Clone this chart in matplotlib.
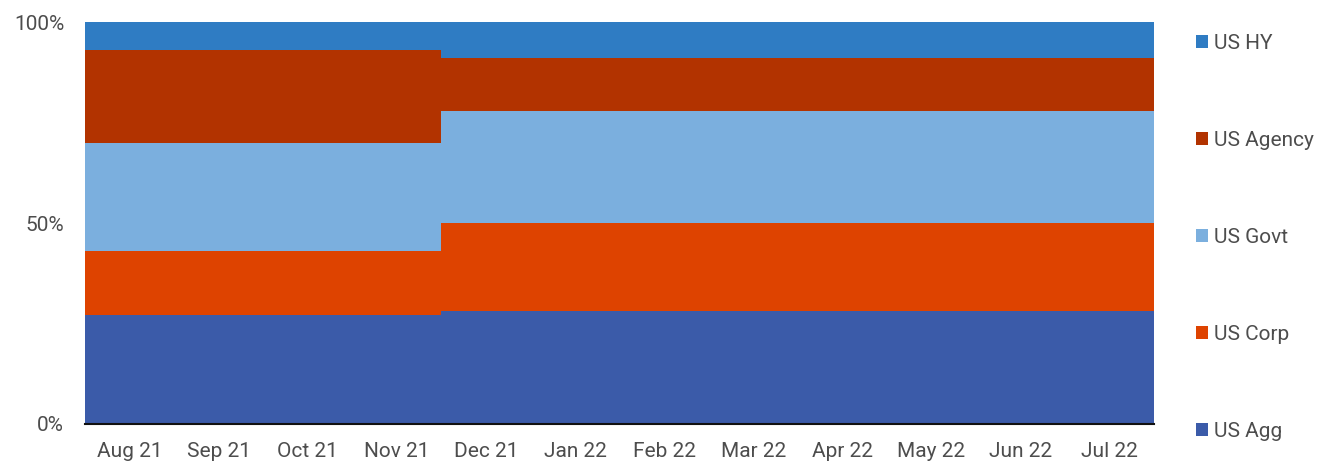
import matplotlib
matplotlib.use("Agg")
import matplotlib.pyplot as plt
import numpy as np
from matplotlib.patches import Patch

plt.rcParams['font.family'] = ['Roboto', 'DejaVu Sans']

months = ["Aug 21", "Sep 21", "Oct 21", "Nov 21", "Dec 21", "Jan 22",
          "Feb 22", "Mar 22", "Apr 22", "May 22", "Jun 22", "Jul 22"]

# portfolio weights, % (bottom to top)
us_agg    = [27, 27, 27, 27, 28, 28, 28, 28, 28, 28, 28, 28]
us_corp   = [16, 16, 16, 16, 22, 22, 22, 22, 22, 22, 22, 22]
us_govt   = [27, 27, 27, 27, 28, 28, 28, 28, 28, 28, 28, 28]
us_agency = [23, 23, 23, 23, 13, 13, 13, 13, 13, 13, 13, 13]
us_hy     = [7, 7, 7, 7, 9, 9, 9, 9, 9, 9, 9, 9]

series = [("US Agg", us_agg, "#3B5BA9"),
          ("US Corp", us_corp, "#DE4300"),
          ("US Govt", us_govt, "#7BAFDE"),
          ("US Agency", us_agency, "#B23300"),
          ("US HY", us_hy, "#2F7CC3")]

fig = plt.figure(figsize=(13.22, 4.62), dpi=100)
ax = fig.add_axes([0.0643, 0.0823, 0.8087, 0.8697])

x = np.arange(len(months))
bottom = np.zeros(len(months))
for name, vals, col in series:
    v = np.array(vals, dtype=float)
    ax.bar(x, v, bottom=bottom, width=1.0, color=col, linewidth=0, label=name)
    bottom += v

ax.set_xlim(-0.5, len(months) - 0.5)
ax.set_ylim(0, 100)
ax.set_yticks([0, 50, 100])
ax.set_yticklabels(["0%", "50%", "100%"])
ax.set_xticks(x)
ax.set_xticklabels(months)
ax.tick_params(axis="both", length=0, labelsize=15, colors="#4d4d4d")
ax.tick_params(axis="y", pad=15)
ax.tick_params(axis="x", pad=13)
for sp in ["top", "right", "left"]:
    ax.spines[sp].set_visible(False)
ax.spines["bottom"].set_color("#111111")
ax.spines["bottom"].set_linewidth(1.5)

handles = [Patch(facecolor=col, label=name) for name, _, col in reversed(series)]
leg = fig.legend(handles=handles, loc="upper left", bbox_to_anchor=(0.8965, 0.949),
                 frameon=False, fontsize=15, labelspacing=3.74,
                 handlelength=0.6, handleheight=0.6, handletextpad=0.3,
                 borderpad=0)
for t in leg.get_texts():
    t.set_color("#4d4d4d")

fig.savefig("out.png", dpi=100)
